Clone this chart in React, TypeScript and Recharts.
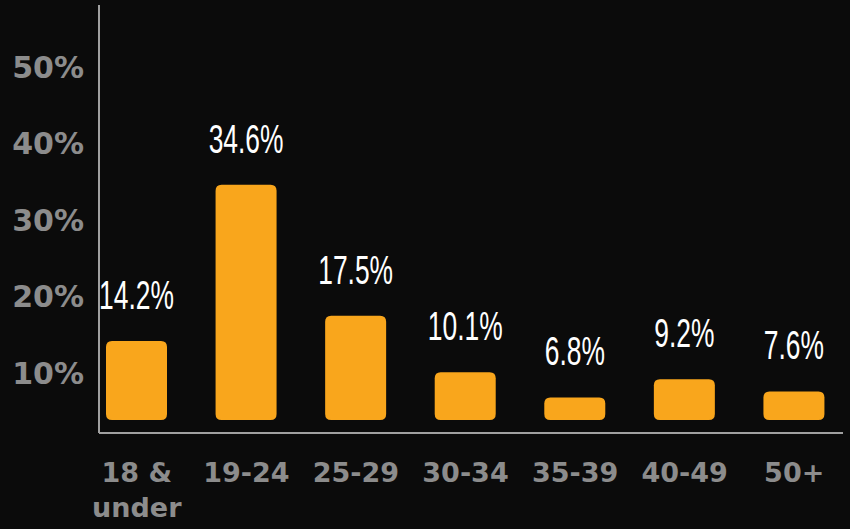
import React from "react";
import { BarChart, Bar, XAxis, YAxis, LabelList } from "recharts";

const categories = ["18 &\nunder", "19-24", "25-29", "30-34", "35-39", "40-49", "50+"];
const shares = [14.2, 34.6, 17.5, 10.1, 6.8, 9.2, 7.6];
const yTicks = [10, 20, 30, 40, 50];

const data = categories.map((age, i) => ({ age, share: shares[i] }));

const BG = "#0b0b0b";
const ORANGE = "#F9A61C";
const GRAY = "#8c8c8c";
const AXIS = "#a0a0a0";

const RoundedBar = (props: any) => {
  const { x, y, width, height } = props;
  const h = Math.max(0, height - 13);
  const r = Math.min(6, h / 2, width / 2);
  const d = `M${x + r},${y} H${x + width - r} Q${x + width},${y} ${x + width},${y + r} V${y + h - r} Q${x + width},${y + h} ${x + width - r},${y + h} H${x + r} Q${x},${y + h} ${x},${y + h - r} V${y + r} Q${x},${y} ${x + r},${y} Z`;
  return <path d={d} fill={ORANGE} />;
};

const ValueLabel = (props: any) => {
  const { x, y, width, value } = props;
  const cx = Number(x) + Number(width) / 2;
  const cy = Number(y) - 32;
  return (
    <text
      transform={`translate(${cx},${cy}) scale(0.66,1)`}
      x={0}
      y={0}
      textAnchor="middle"
      fill="#ffffff"
      style={{ fontFamily: '"Liberation Sans Narrow", "Liberation Sans", sans-serif', fontSize: 40 }}
    >
      {`${value}%`}
    </text>
  );
};

const AgeTick = (props: any) => {
  const { x, y, payload } = props;
  const lines = String(payload.value).split("\n");
  return (
    <text
      x={x}
      y={y + 49}
      textAnchor="middle"
      fill={GRAY}
      style={{ fontFamily: '"DejaVu Sans", sans-serif', fontWeight: 700, fontSize: 27 }}
    >
      {lines.map((l, i) => (
        <tspan key={i} x={x} dy={i === 0 ? 0 : 35}>
          {l}
        </tspan>
      ))}
    </text>
  );
};

export default function App() {
  return (
    <div style={{ position: "fixed", left: 0, top: 0, width: 850, height: 529, background: BG }}>
      <BarChart
        width={850}
        height={529}
        data={data}
        margin={{ top: 5, right: 7, bottom: 0, left: 0 }}
      >
        <XAxis
          dataKey="age"
          height={96}
          interval={0}
          tickLine={false}
          tickSize={0}
          tickMargin={0}
          axisLine={{ stroke: AXIS, strokeWidth: 2 }}
          tick={<AgeTick />}
          padding={{ left: -17, right: -6 }}
        />
        <YAxis
          width={99}
          type="number"
          domain={[2.16, 58.1]}
          allowDataOverflow
          ticks={yTicks}
          tickFormatter={(v: number) => `${v}%`}
          tickLine={false}
          tickSize={0}
          tickMargin={15}
          axisLine={{ stroke: AXIS, strokeWidth: 2 }}
          tick={{ fill: GRAY, fontFamily: '"DejaVu Sans", sans-serif', fontWeight: 700, fontSize: 30 }}
        />
        <Bar dataKey="share" barSize={61} fill={ORANGE} isAnimationActive={false} shape={<RoundedBar />}>
          <LabelList dataKey="share" content={<ValueLabel />} />
        </Bar>
      </BarChart>
    </div>
  );
}
